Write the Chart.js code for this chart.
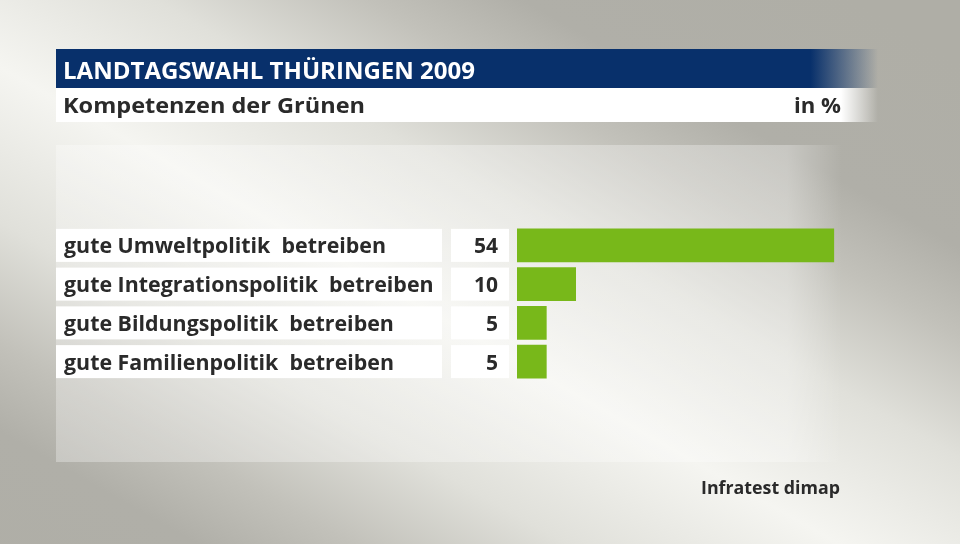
<!DOCTYPE html>
<html>
<head>
<meta charset="utf-8">
<script src="https://cdn.jsdelivr.net/npm/chart.js@4/dist/chart.umd.min.js"></script>
<style>
  html, body { margin: 0; padding: 0; background: #b0afa8; }
  canvas { display: block; }
</style>
</head>
<body>
<canvas id="chart" width="960" height="544"></canvas>
<script>
// data
var categories = [
    'gute Umweltpolitik  betreiben',
    'gute Integrationspolitik  betreiben',
    'gute Bildungspolitik  betreiben',
    'gute Familienpolitik  betreiben'
];
var values = [54, 10, 5, 5];
var valueLabels = ['54', '10', '5', '5'];

var titleText = 'LANDTAGSWAHL THÜRINGEN 2009';
var subtitleText = 'Kompetenzen der Grünen';
var unitText = 'in %';
var sourceText = 'Infratest dimap';

var FONT = '"Open Sans", "DejaVu Sans", sans-serif';
var BAR_H = 33;
var TEXT_COLOR = '#2a2a2a';

// draws text squeezed/stretched horizontally to a given width
function fitText(ctx, text, x, y, font, width, align) {
    ctx.save();
    ctx.font = font;
    var w = ctx.measureText(text).width;
    var k = width / w;
    var left = align === 'right' ? x - width : x;
    ctx.translate(left, y);
    ctx.scale(k, 1);
    ctx.textAlign = 'left';
    ctx.fillText(text, 0, 0);
    ctx.restore();
}

// background, header bars, label boxes
var backdrop = {
    id: 'backdrop',
    beforeDraw: function (chart) {
        var ctx = chart.ctx;
        ctx.save();
        // diagonal light band
        var cx = 480, cy = 340, nx = 0.494, ny = -0.870, r = 480;
        var g = ctx.createLinearGradient(cx - nx * r, cy - ny * r, cx + nx * r, cy + ny * r);
        g.addColorStop(0, '#afaea6');
        g.addColorStop(0.17, '#b0afa8');
        g.addColorStop(0.25, '#c2c1ba');
        g.addColorStop(0.36, '#e0e0da');
        g.addColorStop(0.5, '#f5f5f1');
        g.addColorStop(0.64, '#e0e0da');
        g.addColorStop(0.75, '#c2c1ba');
        g.addColorStop(0.83, '#b0afa8');
        g.addColorStop(1, '#afaea6');
        ctx.fillStyle = g;
        ctx.fillRect(0, 0, 960, 544);

        // lighter panel behind the rows
        var pg = ctx.createLinearGradient(56, 0, 842, 0);
        pg.addColorStop(0, 'rgba(255,255,255,0.3)');
        pg.addColorStop(0.93, 'rgba(255,255,255,0.3)');
        pg.addColorStop(1, 'rgba(255,255,255,0)');
        ctx.fillStyle = pg;
        ctx.fillRect(56, 145, 786, 317);

        // title bar
        var tg = ctx.createLinearGradient(56, 0, 878, 0);
        tg.addColorStop(0, 'rgba(8,48,107,1)');
        tg.addColorStop(0.918, 'rgba(8,48,107,1)');
        tg.addColorStop(1, 'rgba(8,48,107,0)');
        ctx.fillStyle = tg;
        ctx.fillRect(56, 49, 822, 39);

        var sg = ctx.createLinearGradient(56, 0, 878, 0);
        sg.addColorStop(0, 'rgba(255,255,255,1)');
        sg.addColorStop(0.955, 'rgba(255,255,255,1)');
        sg.addColorStop(1, 'rgba(255,255,255,0)');
        ctx.fillStyle = sg;
        ctx.fillRect(56, 88, 822, 34);

        ctx.textBaseline = 'alphabetic';
        ctx.fillStyle = '#ffffff';
        fitText(ctx, titleText, 63, 79, 'bold 24px ' + FONT, 412, 'left');

        ctx.fillStyle = TEXT_COLOR;
        fitText(ctx, subtitleText, 63, 113, 'bold 22px ' + FONT, 302, 'left');
        fitText(ctx, unitText, 841, 113, 'bold 22px ' + FONT, 47, 'right');
        fitText(ctx, sourceText, 840, 494, 'bold 18px ' + FONT, 139, 'right');

        // row boxes with category and value text
        var y = chart.scales.y;
        ctx.font = 'bold 21px ' + FONT;
        var k = 322 / ctx.measureText(categories[0]).width;
        categories.forEach(function (c, i) {
            var py = y.getPixelForValue(i);
            var top = py - BAR_H / 2;
            ctx.fillStyle = '#ffffff';
            ctx.fillRect(56, top, 386, BAR_H);
            ctx.fillRect(451, top, 58, BAR_H);
            ctx.fillStyle = TEXT_COLOR;
            ctx.font = 'bold 21px ' + FONT;
            var w = ctx.measureText(c).width * k;
            fitText(ctx, c, 64, py + 8, 'bold 21px ' + FONT, w, 'left');
            ctx.textAlign = 'right';
            ctx.fillText(valueLabels[i], 498, py + 8);
        });
        ctx.restore();
    }
};

var chart = new Chart(document.getElementById('chart'), {
    type: 'bar',
    data: {
        labels: categories,
        datasets: [{
            data: values,
            backgroundColor: '#78b81a',
            borderWidth: 0,
            barThickness: BAR_H
        }]
    },
    options: {
        indexAxis: 'y',
        responsive: false,
        animation: false,
        layout: { padding: { left: 517, right: 91, top: 226, bottom: 163 } },
        scales: {
            x: { min: 0, max: 60, display: false },
            y: { display: false }
        },
        plugins: {
            legend: { display: false },
            tooltip: { enabled: false }
        }
    },
    plugins: [backdrop]
});
</script>
</body>
</html>
